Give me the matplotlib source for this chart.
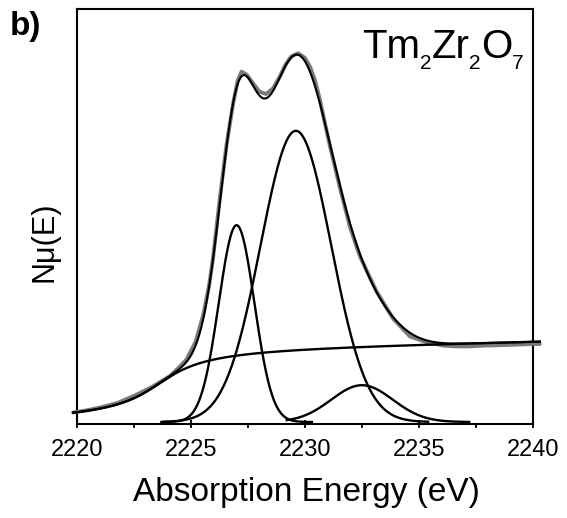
import numpy as np
import matplotlib
matplotlib.use("Agg")
import matplotlib.pyplot as plt
from matplotlib.transforms import offset_copy

plt.rcParams['font.family'] = ['Liberation Sans', 'DejaVu Sans']

meas_energy = [2219.83, 2220.0, 2220.5, 2221.15, 2221.8, 2222.6, 2223.3, 2224.08,
               2224.5, 2224.8, 2225.2, 2225.54, 2225.8, 2225.97, 2226.27, 2226.56,
               2226.86, 2227.05, 2227.22, 2227.45, 2227.73, 2228.0, 2228.3, 2228.6,
               2228.9, 2229.15, 2229.4, 2229.7, 2230.0, 2230.22, 2230.45, 2230.66,
               2230.9, 2231.1, 2231.54, 2231.97, 2232.41, 2233.14, 2233.87, 2234.6,
               2235.34, 2236.07, 2236.65, 2237.2, 2237.82, 2238.5, 2239.0, 2239.5,
               2240.0, 2240.3]
meas_value = [0.119, 0.125, 0.15, 0.19, 0.24, 0.34, 0.44, 0.575,
              0.69, 0.78, 1.00, 1.34, 1.72, 2.06, 2.81, 3.47,
              4.00, 4.27, 4.38, 4.34, 4.23, 4.13, 4.10, 4.17,
              4.32, 4.47, 4.57, 4.61, 4.55, 4.44, 4.26, 4.02,
              3.70, 3.44, 2.92, 2.44, 2.07, 1.63, 1.29, 1.07,
              0.995, 0.955, 0.945, 0.945, 0.955, 0.96, 0.965, 0.97,
              0.975, 0.975]

# ---- fit components ----
step_center = 2223.6
step_width = 1.6
step_height = 0.919
step_slope = 0.0056          # per eV, from 2220

peak_centers = [2227.0, 2229.6, 2232.5]
peak_heights = [2.46, 3.64, 0.46]
peak_sigmas = [0.78, 1.55, 1.35]
peak_ranges = [(2223.7, 2230.3), (2223.8, 2235.4), (2229.2, 2237.2)]

x_range = (2219.83, 2240.3)
x_ticks = [2220, 2225, 2230, 2235, 2240]
x_label = "Absorption Energy (eV)"
y_label = "N\u03bc(E)"
sample_parts = [("Tm", False), ("2", True), ("Zr", False), ("2", True),
                ("O", False), ("7", True)]
panel = "b)"


def background(x):
    return (step_height * (0.5 + np.arctan((x - step_center) / step_width) / np.pi)
            + step_slope * (x - 2220))


def gauss(x, c, h, s):
    return h * np.exp(-0.5 * ((x - c) / s) ** 2)


fig = plt.figure(figsize=(5.67, 5.18), dpi=100)
ax = fig.add_axes([77 / 567, 1 - 424 / 518, (533 - 77) / 567, (424 - 9) / 518])

xe = np.linspace(x_range[0], x_range[1], 1200)
fit = background(xe)
for c, h, s in zip(peak_centers, peak_heights, peak_sigmas):
    fit = fit + gauss(xe, c, h, s)

ax.plot(meas_energy, meas_value, color='#7a7a7a', lw=2.8, clip_on=False,
        solid_capstyle='round', zorder=3)
ax.plot(xe, fit, color='black', lw=1.5, clip_on=False, zorder=4)
ax.plot(xe, background(xe), color='black', lw=1.7, clip_on=False, zorder=4)
for (c, h, s), (a, b) in zip(zip(peak_centers, peak_heights, peak_sigmas), peak_ranges):
    xp = np.linspace(a, b, 400)
    ax.plot(xp, gauss(xp, c, h, s), color='black', lw=1.7, zorder=4)

ax.set_xlim(2220, 2240)
ax.set_ylim(-0.025, 5.1625)
ax.set_xticks(x_ticks)
ax.set_xticks(np.arange(2222.5, 2240, 5), minor=True)
ax.set_yticks([])
ax.tick_params(axis='x', which='major', direction='inout', length=6, width=1.3,
               labelsize=17, pad=8)
ax.tick_params(axis='x', which='minor', direction='out', length=3, width=1.3)
for sp in ax.spines.values():
    sp.set_linewidth(1.5)

# sample formula, built piece by piece (large letters, small low subscripts)
renderer = fig.canvas.get_renderer()
x_px = 362.0
base_px = 58.0
for txt, is_sub in sample_parts:
    size = 15 if is_sub else 29
    y_px = base_px + (11 if is_sub else 0)
    t = fig.text(x_px / 567, 1 - y_px / 518, txt, ha='left', va='baseline',
                 fontsize=size)
    bb = t.get_window_extent(renderer)
    x_px += bb.width

fig.text(10 / 567, 1 - 11 / 518, panel, ha='left', va='top', fontsize=24,
         fontweight='bold')
fig.text(306 / 567, 1 - 493 / 518, x_label, ha='center', va='center', fontsize=24)
fig.text(44 / 567, 1 - 242 / 518, y_label, ha='center', va='center', fontsize=22,
         rotation=90)

fig.savefig("out.png", dpi=100)
